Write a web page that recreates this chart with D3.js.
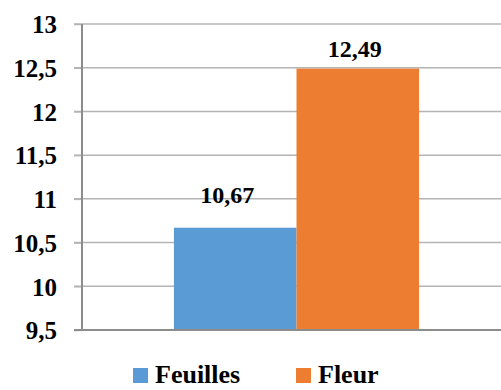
<!DOCTYPE html>
<html><head><meta charset="utf-8">
<script src="https://cdn.jsdelivr.net/npm/d3@7"></script>
<style>body{margin:0;background:#fff;}</style>
</head><body>
<script>
const categories = [""];
const seriesNames = ["Feuilles", "Fleur"];
const feuilles = [10.67];
const fleur = [12.49];
const yTicks = [9.5, 10, 10.5, 11, 11.5, 12, 12.5, 13];
const colors = ["#5B9BD5", "#ED7D31"];

const W = 501, H = 390;
const FONT = "Times New Roman, Liberation Serif, serif";
const m = {left: 82, right: -10, top: 24, bottom: 60};
const svg = d3.select("body").append("svg").attr("width", W).attr("height", H)
  .style("display", "block");

const x0 = d3.scaleBand().domain(categories).range([m.left, W - m.right]).paddingInner(0).paddingOuter(0);
const y = d3.scaleLinear().domain([9.5, 13]).range([H - m.bottom, m.top]);

// grid
svg.append("g").selectAll("line").data(yTicks.slice(1)).join("line")
  .attr("x1", m.left - 8).attr("x2", W)
  .attr("y1", d => y(d)).attr("y2", d => y(d))
  .attr("stroke", "#B4B4B4").attr("stroke-width", 1.5);

const data = categories.map((c, i) => ({c, vals: [feuilles[i], fleur[i]]}));
const catW = x0.bandwidth();
const x1 = d3.scaleBand().domain(seriesNames).range([0, catW]).paddingOuter(0.75).paddingInner(0);

const g = svg.append("g");
data.forEach(d => {
  seriesNames.forEach((s, j) => {
    g.append("rect")
      .attr("x", x0(d.c) + x1(s))
      .attr("y", y(d.vals[j]))
      .attr("width", x1.bandwidth())
      .attr("height", y(9.5) - y(d.vals[j]))
      .attr("fill", colors[j]);
  });
});

function styleText(sel, size) {
  sel.attr("font-family", FONT).attr("font-weight", "bold").attr("font-size", size).attr("fill", "#000");
}

// labels
const labelDy = [25, 12];
const labelDx = [-8, -3];
data.forEach(d => {
  seriesNames.forEach((s, j) => {
    svg.append("text")
      .attr("x", x0(d.c) + x1(s) + x1.bandwidth() / 2 + labelDx[j])
      .attr("y", y(d.vals[j]) - labelDy[j])
      .attr("text-anchor", "middle")
      .call(styleText, 24)
      .text(d3.format(".2f")(d.vals[j]).replace(".", ","));
  });
});

// axes
const yAxis = d3.axisLeft(y).tickValues(yTicks).tickSize(8).tickPadding(17)
  .tickFormat(d => String(d).replace(".", ","));
const ya = svg.append("g").attr("transform", `translate(${m.left},0)`).call(yAxis);
ya.attr("font-family", FONT).attr("font-size", 25);
ya.select(".domain").remove();
ya.selectAll(".tick line").attr("stroke", "#B4B4B4").attr("stroke-width", 1.5);
ya.selectAll(".tick text").call(styleText, 25).attr("dy", "0.35em");

svg.append("line").attr("x1", m.left).attr("x2", m.left)
  .attr("y1", y(13)).attr("y2", y(9.5) + 1)
  .attr("stroke", "#8C8C8C").attr("stroke-width", 2);
svg.append("line").attr("x1", m.left - 8).attr("x2", W)
  .attr("y1", y(9.5)).attr("y2", y(9.5))
  .attr("stroke", "#8C8C8C").attr("stroke-width", 2);

// legend
const legX = [133, 296];
const lg = svg.append("g");
seriesNames.forEach((s, j) => {
  lg.append("rect").attr("x", legX[j]).attr("y", 368).attr("width", 15).attr("height", 15).attr("fill", colors[j]);
  lg.append("text").attr("x", legX[j] + 22).attr("y", 383)
    .call(styleText, 26).text(s);
});
</script>
</body></html>
